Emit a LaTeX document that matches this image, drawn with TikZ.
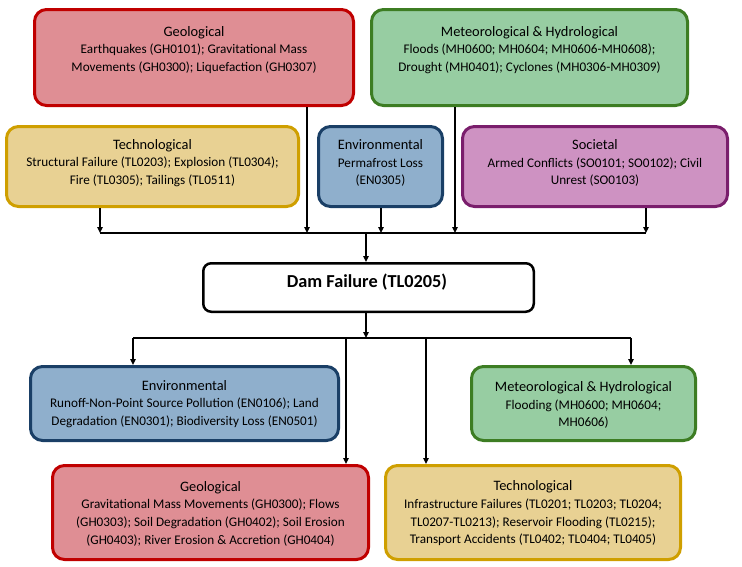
\documentclass[tikz,border=0pt]{standalone}
\usepackage{fontspec}
\setmainfont{Carlito}
\usetikzlibrary{arrows.meta}
\definecolor{geoF}{HTML}{DF8E94}\definecolor{geoD}{HTML}{C00000}
\definecolor{metF}{HTML}{97CDA2}\definecolor{metD}{HTML}{3D7D23}
\definecolor{tecF}{HTML}{E8D193}\definecolor{tecD}{HTML}{CF9F00}
\definecolor{envF}{HTML}{8FAFCC}\definecolor{envD}{HTML}{1A3F66}
\definecolor{socF}{HTML}{CE92C2}\definecolor{socD}{HTML}{7A1E6C}
\tikzset{
  catbox/.style 2 args={draw=#1, fill=#2, line width=3pt, rounded corners=12pt, inner sep=0pt},
  txt/.style={align=center, inner sep=0pt, font=\fontsize{13.2}{17.7}\selectfont},
  conn/.style={line width=1.7pt, draw=black},
  arr/.style={conn, -{Triangle[length=6pt,width=5.5pt]}}
}
\newcommand{\hd}[1]{{\fontsize{14.4}{17.7}\selectfont #1}}
\begin{document}
\begin{tikzpicture}[x=1pt,y=-1pt]
\useasboundingbox (0,0) rectangle (742,566);
% top boxes
\node[catbox={geoD}{geoF}, minimum width=319pt, minimum height=96pt] (geoT) at (194,57.5) {};
\node[catbox={metD}{metF}, minimum width=316pt, minimum height=96pt] (metT) at (529.5,57.5) {};
\node[catbox={tecD}{tecF}, minimum width=292pt, minimum height=80pt] (tecT) at (152.5,166.5) {};
\node[catbox={envD}{envF}, minimum width=124pt, minimum height=80pt] (envT) at (380.5,166.5) {};
\node[catbox={socD}{socF}, minimum width=265pt, minimum height=80pt] (socT) at (595,166.5) {};
% dam
\node[draw=black, fill=white, line width=2.5pt, rounded corners=8pt, minimum width=330.5pt, minimum height=48.5pt, inner sep=0pt] (dam) at (368.5,287.5) {};
% bottom boxes
\node[catbox={envD}{envF}, minimum width=308pt, minimum height=74pt] (envB) at (184.5,403.5) {};
\node[catbox={metD}{metF}, minimum width=224pt, minimum height=74pt] (metB) at (583.5,403.5) {};
\node[catbox={geoD}{geoF}, minimum width=316pt, minimum height=94pt] (geoB) at (210.5,512.5) {};
\node[catbox={tecD}{tecF}, minimum width=295pt, minimum height=94pt] (tecB) at (533,512.5) {};
% texts
\node[txt] (geoTt) at (194,50) {\hd{Geological}\\Earthquakes (GH0101); Gravitational Mass\\Movements (GH0300); Liquefaction (GH0307)};
\node[txt] (metTt) at (529.5,50) {\hd{Meteorological \& Hydrological}\\Floods (MH0600; MH0604; MH0606-MH0608);\\Drought (MH0401); Cyclones (MH0306-MH0309)};
\node[txt] (tecTt) at (152.5,163) {\hd{Technological}\\Structural Failure (TL0203); Explosion (TL0304);\\Fire (TL0305); Tailings (TL0511)};
\node[txt] (envTt) at (380.5,163) {\hd{Environmental}\\Permafrost Loss\\(EN0305)};
\node[txt] (socTt) at (595,163) {\hd{Societal}\\Armed Conflicts (SO0101; SO0102); Civil\\Unrest (SO0103)};
\node[inner sep=0pt, font=\fontsize{18.3}{20}\selectfont\bfseries] (damt) at (367,282) {Dam Failure (TL0205)};
\node[txt] (envBt) at (184.5,404) {\hd{Environmental}\\Runoff-Non-Point Source Pollution (EN0106); Land\\Degradation (EN0301); Biodiversity Loss (EN0501)};
\node[txt] (metBt) at (583.5,405) {\hd{Meteorological \& Hydrological}\\Flooding (MH0600; MH0604;\\MH0606)};
\node[txt] (geoBt) at (210.5,513.5) {\hd{Geological}\\Gravitational Mass Movements (GH0300); Flows\\(GH0303); Soil Degradation (GH0402); Soil Erosion\\(GH0403); River Erosion \& Accretion (GH0404)};
\node[txt] (tecBt) at (533,513.5) {\hd{Technological}\\Infrastructure Failures (TL0201; TL0203; TL0204;\\TL0207-TL0213); Reservoir Flooding (TL0215);\\Transport Accidents (TL0402; TL0404; TL0405)};
% upper bus
\coordinate (j1) at (100,233);
\coordinate (j2) at (307,233);
\coordinate (j3) at (381,233);
\coordinate (j4) at (455,233);
\coordinate (j5) at (646,233);
\coordinate (jc) at (366,233);
\draw[conn] (j1) -- (j5);
\draw[arr] (tecT.south -| j1) -- (j1);
\draw[arr] (geoT.south -| j2) -- (j2);
\draw[arr] (envT.south -| j3) -- (j3);
\draw[arr] (metT.south -| j4) -- (j4);
\draw[arr] (socT.south -| j5) -- (j5);
\draw[arr] (jc) -- (dam.north -| jc);
% lower bus
\coordinate (k0) at (366,338);
\coordinate (k1) at (133,338);
\coordinate (k2) at (346,338);
\coordinate (k3) at (426,338);
\coordinate (k4) at (631,338);
\draw[arr] (dam.south -| k0) -- (k0);
\draw[conn] (k1) -- (k4);
\draw[arr] (k1) -- (envB.north -| k1);
\draw[arr] (k2) -- (geoB.north -| k2);
\draw[arr] (k3) -- (tecB.north -| k3);
\draw[arr] (k4) -- (metB.north -| k4);
\end{tikzpicture}
\end{document}
